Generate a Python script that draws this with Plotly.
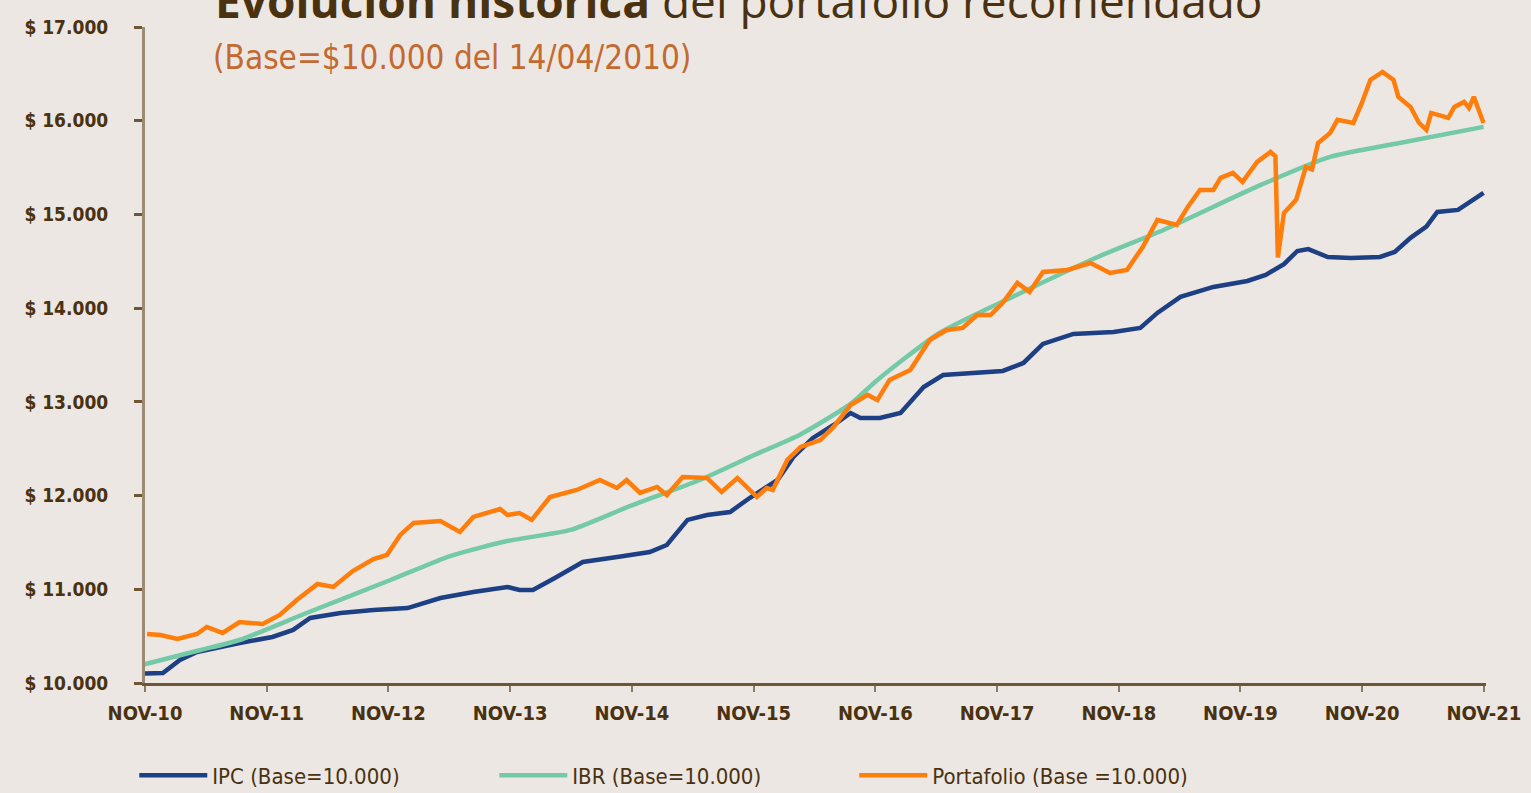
import plotly.graph_objects as go

# ---------------- data ----------------
TICK_LABELS = ["NOV-10", "NOV-11", "NOV-12", "NOV-13", "NOV-14", "NOV-15",
               "NOV-16", "NOV-17", "NOV-18", "NOV-19", "NOV-20", "NOV-21"]
TICK_YEARS = [2010.833 + k for k in range(12)]

Y_TICKS = [10000, 11000, 12000, 13000, 14000, 15000, 16000, 17000]
Y_TICK_LABELS = ["$ 10.000", "$ 11.000", "$ 12.000", "$ 13.000",
                 "$ 14.000", "$ 15.000", "$ 16.000", "$ 17.000"]

ipc_t = [2010.83, 2010.98, 2011.12, 2011.26, 2011.61, 2011.88, 2012.05, 2012.19,
         2012.44, 2012.71, 2012.99, 2013.26, 2013.53, 2013.81, 2013.91, 2014.02,
         2014.20, 2014.43, 2014.74, 2014.98, 2015.12, 2015.29, 2015.45, 2015.64,
         2015.80, 2016.03, 2016.16, 2016.32, 2016.49, 2016.63, 2016.71, 2016.87,
         2017.04, 2017.23, 2017.39, 2017.59, 2017.88, 2018.05, 2018.21, 2018.46,
         2018.79, 2019.01, 2019.15, 2019.34, 2019.61, 2019.89, 2020.04, 2020.19,
         2020.30, 2020.39, 2020.55, 2020.74, 2020.98, 2021.10, 2021.23, 2021.36,
         2021.45, 2021.62, 2021.72, 2021.83]
ipc_v = [10100, 10107, 10245, 10331, 10427, 10491, 10566, 10694,
         10747, 10779, 10800, 10907, 10971, 11025, 10992, 10992,
         11120, 11291, 11350, 11398, 11473, 11740, 11793, 11825,
         11974, 12166, 12412, 12615, 12753, 12881, 12828, 12828,
         12881, 13159, 13287, 13308, 13330, 13415, 13618, 13725,
         13746, 13789, 13949, 14120, 14226, 14290, 14354, 14470,
         14610, 14630, 14546, 14536, 14546, 14600, 14750, 14870,
         15027, 15048, 15130, 15230]

ibr_t = [2010.83, 2011.29, 2011.61, 2012.16, 2012.85, 2013.34, 2013.81, 2014.33,
         2014.82, 2015.39, 2015.85, 2016.21, 2016.63, 2016.85, 2017.36, 2017.96,
         2018.66, 2019.20, 2020.00, 2020.57, 2021.14, 2021.83]
ibr_v = [10200, 10352, 10459, 10747, 11099, 11355, 11515, 11633,
         11889, 12166, 12440, 12647, 12978, 13234, 13735, 14120,
         14546, 14834, 15315, 15614, 15763, 15934]

port_t = [2010.85, 2010.96, 2011.10, 2011.26, 2011.34, 2011.47, 2011.61, 2011.80,
          2011.94, 2012.08, 2012.25, 2012.38, 2012.54, 2012.71, 2012.82, 2012.93,
          2013.04, 2013.26, 2013.42, 2013.53, 2013.75, 2013.81, 2013.91, 2014.01,
          2014.16, 2014.38, 2014.57, 2014.71, 2014.79, 2014.90, 2015.04, 2015.12,
          2015.25, 2015.45, 2015.57, 2015.70, 2015.86, 2015.94, 2015.99, 2016.11,
          2016.22, 2016.38, 2016.49, 2016.63, 2016.77, 2016.85, 2016.95, 2017.12,
          2017.28, 2017.42, 2017.55, 2017.67, 2017.78, 2017.88, 2018.00, 2018.10,
          2018.21, 2018.41, 2018.60, 2018.76, 2018.90, 2019.03, 2019.15, 2019.31,
          2019.40, 2019.50, 2019.61, 2019.67, 2019.77, 2019.85, 2019.97, 2020.08,
          2020.12, 2020.14, 2020.19, 2020.29, 2020.37, 2020.42, 2020.47, 2020.57,
          2020.63, 2020.76, 2020.83, 2020.90, 2021.00, 2021.09, 2021.13, 2021.23,
          2021.30, 2021.36, 2021.40, 2021.54, 2021.59, 2021.67, 2021.71, 2021.75,
          2021.79, 2021.83]
port_v = [10523, 10512, 10470, 10523, 10598, 10534, 10651, 10630,
          10726, 10886, 11057, 11025, 11195, 11323, 11366, 11580,
          11708, 11729, 11612, 11772, 11857, 11793, 11814, 11740,
          11985, 12060, 12166, 12081, 12166, 12028, 12092, 12006,
          12198, 12188, 12038, 12188, 11985, 12081, 12060, 12380,
          12519, 12593, 12732, 12967, 13074, 13020, 13234, 13340,
          13660, 13767, 13789, 13927, 13927, 14056, 14269, 14173,
          14386, 14408, 14482, 14376, 14408, 14653, 14941, 14888,
          15080, 15261, 15261, 15390, 15443, 15347, 15560, 15667,
          15620, 14540, 15016, 15155, 15507, 15480, 15763, 15870,
          16009, 15976, 16190, 16435, 16521, 16435, 16254, 16147,
          15976, 15902, 16083, 16030, 16147, 16201, 16137, 16254,
          16115, 15976]

SERIES_NAMES = ["IPC (Base=10.000)", "IBR (Base=10.000)", "Portafolio (Base =10.000)"]

# ---------------- styling ----------------
BG = "#ece7e3"
TXT = "#4a3210"
BLUE = "#1d3f84"
GREEN = "#74c9a7"
ORANGE = "#ff7d0a"
NARROW = "Liberation Sans Narrow, DejaVu Sans Condensed, Arial Narrow, sans-serif"

fig = go.Figure()
fig.add_trace(go.Scatter(x=ipc_t, y=ipc_v, mode="lines", name=SERIES_NAMES[0],
                         line=dict(color=BLUE, width=4.5)))
fig.add_trace(go.Scatter(x=ibr_t, y=ibr_v, mode="lines", name=SERIES_NAMES[1],
                         line=dict(color=GREEN, width=4.5, shape="spline", smoothing=0.6)))
fig.add_trace(go.Scatter(x=port_t, y=port_v, mode="lines", name=SERIES_NAMES[2],
                         line=dict(color=ORANGE, width=4.5)))

fig.update_layout(
    width=1531, height=793,
    paper_bgcolor=BG, plot_bgcolor=BG,
    margin=dict(l=145, r=45, t=27, b=110, autoexpand=False),
    showlegend=True,
    legend=dict(orientation="h", x=-0.008, xanchor="left", y=-0.109, yanchor="top",
                bgcolor="rgba(0,0,0,0)", itemwidth=68, entrywidth=277,
                font=dict(family=NARROW, size=22, color=TXT)),
    xaxis=dict(range=[2010.833, 2021.85], tickvals=TICK_YEARS, ticktext=TICK_LABELS,
               showgrid=False, zeroline=False, showline=True, linecolor="#6f5637",
               linewidth=3, ticks="outside", ticklen=6, tickwidth=2, tickcolor="#8c7a62",
               tickfont=dict(family=NARROW, size=20, color=TXT, weight="bold"),
               ticklabelstandoff=4),
    yaxis=dict(range=[10000, 17000], tickvals=Y_TICKS, ticktext=Y_TICK_LABELS,
               showgrid=False, zeroline=False, showline=True, linecolor="#9b8b74",
               linewidth=3, ticks="outside", ticklen=8, tickwidth=3, tickcolor="#6f5637",
               tickfont=dict(family=NARROW, size=19, color=TXT, weight="bold"),
               ticklabelstandoff=22),
)

fig.add_annotation(xref="paper", yref="paper", x=(213 - 145) / 1341, y=1 - 6 / 656,
                   xanchor="left", yanchor="bottom", showarrow=False,
                   text="<b>Evolución histórica</b> del portafolio recomendado",
                   font=dict(family="Open Sans, sans-serif", size=46, color=TXT))
fig.add_annotation(xref="paper", yref="paper", x=(211 - 145) / 1341, y=1 - 9 / 656,
                   xanchor="left", yanchor="top", showarrow=False,
                   text="(Base=$10.000 del 14/04/2010)",
                   font=dict(family=NARROW, size=33, color="#c4692f"))

fig.write_html("out.html", config={"displayModeBar": False},
               post_script="document.body.style.margin='0';document.body.style.padding='0';"
                           "document.body.style.overflow='hidden';")
